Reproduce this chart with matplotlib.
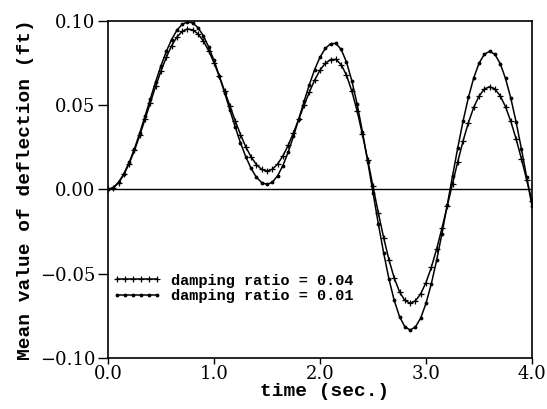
import matplotlib
matplotlib.use("Agg")
import matplotlib.pyplot as plt

# sample times (sec.)
time = [0.00, 0.05, 0.10, 0.15, 0.20, 0.25, 0.30, 0.35, 0.40, 0.45,
        0.50, 0.55, 0.60, 0.65, 0.70, 0.75, 0.80, 0.85, 0.90, 0.95,
        1.00, 1.05, 1.10, 1.15, 1.20, 1.25, 1.30, 1.35, 1.40, 1.45,
        1.50, 1.55, 1.60, 1.65, 1.70, 1.75, 1.80, 1.85, 1.90, 1.95,
        2.00, 2.05, 2.10, 2.15, 2.20, 2.25, 2.30, 2.35, 2.40, 2.45,
        2.50, 2.55, 2.60, 2.65, 2.70, 2.75, 2.80, 2.85, 2.90, 2.95,
        3.00, 3.05, 3.10, 3.15, 3.20, 3.25, 3.30, 3.35, 3.40, 3.45,
        3.50, 3.55, 3.60, 3.65, 3.70, 3.75, 3.80, 3.85, 3.90, 3.95,
        4.00]

# mean deflection (ft), damping ratio = 0.04
defl_004 = [0.0000, 0.0010, 0.0040, 0.0089, 0.0154, 0.0232, 0.0322, 0.0418, 0.0516, 0.0613,
            0.0703, 0.0784, 0.0853, 0.0905, 0.0938, 0.0953, 0.0947, 0.0923, 0.0881, 0.0823,
            0.0753, 0.0672, 0.0585, 0.0496, 0.0408, 0.0326, 0.0253, 0.0193, 0.0148, 0.0119,
            0.0110, 0.0120, 0.0151, 0.0199, 0.0262, 0.0337, 0.0418, 0.0500, 0.0579, 0.0650,
            0.0708, 0.0749, 0.0771, 0.0772, 0.0741, 0.0678, 0.0585, 0.0466, 0.0328, 0.0176,
            0.0018, -0.0138, -0.0285, -0.0416, -0.0525, -0.0607, -0.0658, -0.0675, -0.0661, -0.0619,
            -0.0552, -0.0462, -0.0354, -0.0231, -0.0100, 0.0035, 0.0166, 0.0289, 0.0397, 0.0487,
            0.0554, 0.0596, 0.0610, 0.0596, 0.0556, 0.0491, 0.0404, 0.0300, 0.0182, 0.0057,
            -0.0070]

# mean deflection (ft), damping ratio = 0.01
defl_001 = [0.0000, 0.0011, 0.0042, 0.0093, 0.0161, 0.0242, 0.0336, 0.0436, 0.0539, 0.0640,
            0.0734, 0.0819, 0.0890, 0.0945, 0.0980, 0.0995, 0.0988, 0.0960, 0.0912, 0.0846,
            0.0766, 0.0673, 0.0574, 0.0472, 0.0371, 0.0277, 0.0194, 0.0125, 0.0073, 0.0041,
            0.0030, 0.0043, 0.0081, 0.0142, 0.0222, 0.0316, 0.0419, 0.0523, 0.0623, 0.0712,
            0.0785, 0.0837, 0.0865, 0.0867, 0.0831, 0.0756, 0.0646, 0.0507, 0.0344, 0.0166,
            -0.0019, -0.0203, -0.0375, -0.0530, -0.0658, -0.0754, -0.0814, -0.0834, -0.0816, -0.0763,
            -0.0676, -0.0560, -0.0421, -0.0263, -0.0093, 0.0079, 0.0249, 0.0407, 0.0546, 0.0662,
            0.0749, 0.0802, 0.0820, 0.0802, 0.0747, 0.0659, 0.0542, 0.0400, 0.0241, 0.0072,
            -0.0100]

xticks = [0.0, 1.0, 2.0, 3.0, 4.0]
yticks = [-0.10, -0.05, 0.00, 0.05, 0.10]

label_font = {"family": "Liberation Mono", "weight": "bold", "size": 14}
tick_font = "DejaVu Serif"

fig = plt.figure(figsize=(5.47, 4.09), dpi=100)
ax = fig.add_axes([0.1974, 0.1247, 0.7752, 0.824])

ax.plot(time, defl_004, color="black", lw=1.1, marker="+", ms=4, mew=0.9,
        label="damping ratio = 0.04")
ax.plot(time, defl_001, color="black", lw=1.1, marker=".", ms=3.5,
        label="damping ratio = 0.01")
ax.axhline(0, color="black", lw=1.0)

ax.set_xlim(0, 4)
ax.set_ylim(-0.10, 0.10)
ax.set_xticks(xticks)
ax.set_yticks(yticks)
ax.set_xticklabels([f"{v:.1f}" for v in xticks], family=tick_font, fontsize=13)
ax.set_yticklabels([f"{v:.2f}".replace("-", "\u2212") for v in yticks],
                   family=tick_font, fontsize=13)
ax.tick_params(axis="y", direction="out", length=7, width=1, pad=2)
ax.tick_params(axis="x", direction="out", length=4, width=1, pad=1)
for s in ax.spines.values():
    s.set_linewidth(1.2)

ax.set_xlabel("time (sec.)", fontdict=label_font)
ax.xaxis.set_label_coords(0.51, -0.075)
ax.set_ylabel("Mean value of deflection (ft)", fontdict=label_font, labelpad=4)

leg = ax.legend(loc="center left", bbox_to_anchor=(0.0, 0.206), frameon=False,
                prop={"family": "Liberation Mono", "weight": "bold", "size": 11},
                numpoints=6, handlelength=3.2, handletextpad=0.6,
                labelspacing=0.1, borderpad=0, borderaxespad=0.3)

fig.savefig("out.png", dpi=100)
